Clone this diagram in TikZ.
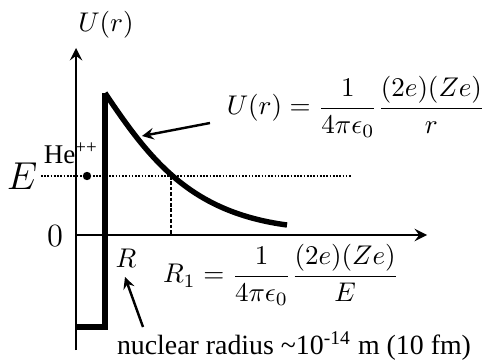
\documentclass[tikz,border=0pt]{standalone}
\usepackage[no-math]{fontspec}
\setmainfont{Liberation Serif}
\usepackage{amsmath}
\usetikzlibrary{arrows.meta}

\begin{document}
\begin{tikzpicture}[x=0.37pt, y=-0.37pt, >=stealth]
    \useasboundingbox (0,0) rectangle (495,360);

    % Define coordinates
    \coordinate (O) at (76,235);
    \coordinate (Ytop) at (76,48);
    \coordinate (Ybot) at (76,350);
    \coordinate (Xend) at (427,235);
    \coordinate (Wtop) at (105,93);
    \coordinate (Wbot) at (105,327);
    \coordinate (Wleft) at (76,327);
    \coordinate (Cend) at (287,225);
    \coordinate (Eleft) at (41,176);
    \coordinate (Eright) at (352,176);
    \coordinate (Ecross) at (171,176);
    \coordinate (Eaxis) at (171,235);
    \coordinate (Utail) at (210,123);
    \coordinate (Uhead) at (142,136);
    \coordinate (Rtail) at (143,327);
    \coordinate (Rhead) at (125,277);

    % Draw axes
    \draw[->, line width=1pt] (Ybot) -- (Ytop);
    \draw[->, line width=1pt] (O) -- (Xend);

    % Draw the potential well and barrier
    \draw[line width=2pt, line join=miter] (Wleft) -- (Wbot) -- (Wtop);
    \draw[line width=2pt] (Wtop) .. controls (150,160) and (190,212) .. (Cend);

    % Energy level
    \draw[line width=0.85pt, dash pattern=on 0.6pt off 0.6pt] (Eleft) -- (Eright);
    \draw[line width=0.8pt, dash pattern=on 1.3pt off 0.7pt] (Ecross) -- (Eaxis);
    \fill (87,176) circle (4.2);

    % Labels
    \node (Ulab) at (106,25) {$U(r)$};
    \node (Elab) at (22,176) {\fontsize{13.5}{15}\selectfont $E$};
    \node (zero) at (55,236) {\fontsize{13}{15}\selectfont $0$};
    \node (He) at (71,153) {He\textsuperscript{++}};
    \node (R) at (126,258) {$R$};
    \node (Uform) at (356,107) {$\displaystyle U(r)=\frac{1}{4\pi\epsilon_0}\frac{(2e)(Ze)}{r}$};
    \node (Rform) at (281,275) {$\displaystyle R_1=\frac{1}{4\pi\epsilon_0}\frac{(2e)(Ze)}{E}$};
    \node (nucl) at (294,346) {\fontsize{10.3}{12}\selectfont nuclear radius \textasciitilde10\textsuperscript{-14} m (10 fm)};

    % Draw pointers
    \draw[->, line width=0.9pt] (Utail) -- (Uhead);
    \draw[->, line width=0.9pt] (Rtail) -- (Rhead);
\end{tikzpicture}
\end{document}
